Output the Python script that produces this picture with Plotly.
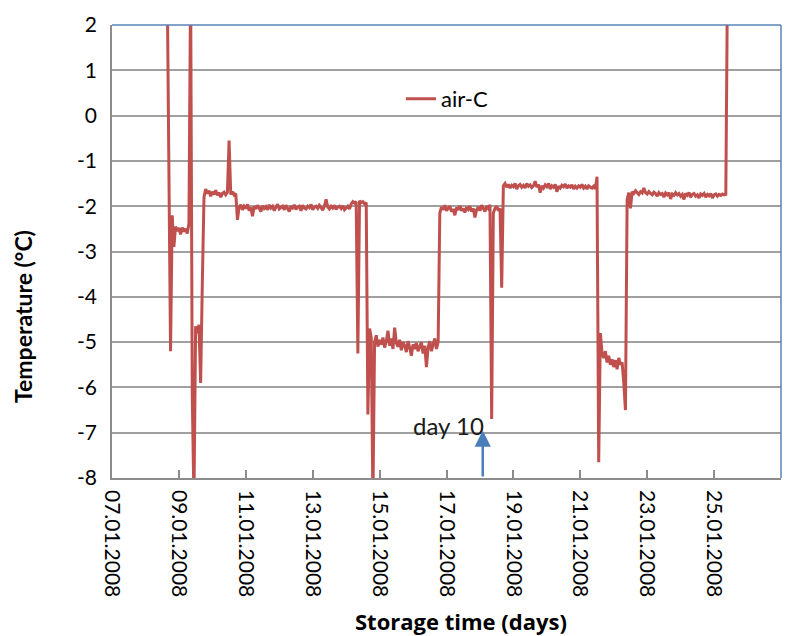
import pandas as pd
import plotly.graph_objects as go

# Air temperature logger, channel "air-C" (one reading every 72 min)
log_start = "2008-01-08 15:36"
log_interval = "72min"

# Start-up, first cooling and defrost spikes
phase_a = [3.0, -2.2, -5.2, -2.2, -2.9, -2.45, -2.55, -2.48, -2.62, -2.47,
           -2.56, -2.5, -2.6, -2.38, 3.0, -6.2, -8.5, -4.65, -4.8, -4.62,
           -5.9, -3.7, -1.8]
# Set point about -1.7 °C
phase_b = [-1.62, -1.72, -1.66, -1.78, -1.68, -1.74, -1.65, -1.76, -1.7, -1.8,
           -1.72, -1.69, -1.75, -1.7, -0.55, -1.74, -1.68, -1.75, -1.72, -2.3]
# Set point about -2.0 °C
phase_c = [-2.02, -1.97, -2.08, -2.0, -2.05, -1.96, -2.1, -2.03, -2.22, -2.0,
           -2.06, -1.98, -2.04, -2.12, -1.99, -2.05, -2.01, -2.08, -1.97, -2.04,
           -2.0, -2.1, -2.02, -1.96, -2.06, -2.03, -2.0, -2.08, -1.98, -2.05,
           -2.12, -2.0, -2.04, -1.97, -2.07, -2.02, -2.0, -2.1, -1.98, -2.04,
           -2.06, -2.0, -2.03, -1.96, -2.08, -2.02, -2.0, -2.05, -1.98, -2.03,
           -2.09, -2.0, -1.85, -2.02, -2.06, -2.0, -2.04, -1.98, -2.07, -2.02,
           -2.0, -2.05, -1.99, -2.08, -2.03, -2.0, -2.06, -1.95, -1.9, -1.93,
           -1.9, -5.25, -1.88, -1.92, -1.9, -1.95, -1.92, -6.6, -4.7, -4.9,
           -8.5]
# Set point about -5.0 °C
phase_d = [-5.0, -4.85, -5.1, -4.95, -5.05, -4.9, -5.12, -4.98, -4.75, -5.08,
           -4.92, -5.15, -4.68, -5.02, -5.1, -4.95, -5.18, -5.0, -5.08, -5.22,
           -4.98, -5.12, -5.3, -5.05, -5.15, -5.02, -5.2, -5.1, -5.0, -5.25,
           -5.08, -5.55, -5.12, -4.98, -5.2, -5.05, -4.92, -5.15, -5.0]
# Back to about -2.0 °C
phase_e = [-2.15, -2.02, -2.08, -1.98, -2.1, -2.05, -2.0, -2.12, -2.06, -2.2,
           -2.03, -2.08, -1.99, -2.1, -2.05, -2.14, -2.02, -2.07, -2.0, -2.12,
           -2.05, -2.25, -2.08, -2.02, -2.1, -1.98, -2.06, -2.12, -2.0, -2.05,
           -1.97, -6.7, -2.15, -2.05, -2.0, -2.1, -2.05, -3.8]
# Set point about -1.55 °C
phase_f = [-1.55, -1.5, -1.58, -1.52, -1.6, -1.54, -1.57, -1.5, -1.62, -1.55,
           -1.52, -1.58, -1.54, -1.6, -1.5, -1.56, -1.53, -1.59, -1.55, -1.45,
           -1.58, -1.52, -1.7, -1.55, -1.6, -1.53, -1.57, -1.5, -1.62, -1.55,
           -1.58, -1.52, -1.68, -1.56, -1.6, -1.54, -1.57, -1.51, -1.6, -1.55,
           -1.58, -1.53, -1.62, -1.56, -1.6, -1.55, -1.58, -1.52, -1.6, -1.56,
           -1.62, -1.55, -1.58, -1.6, -1.56, -1.62, -1.35, -7.65, -4.8]
# Set point about -5.4 °C
phase_g = [-5.25, -5.35, -5.2, -5.45, -5.3, -5.5, -5.38, -5.55, -5.4, -5.6,
           -5.35, -5.5, -5.45, -5.9, -6.5, -1.85]
# Set point about -1.7 °C, then the logger is taken out
phase_h = [-1.7, -2.05, -1.68, -1.72, -1.66, -1.7, -1.74, -1.68, -1.71, -1.6,
           -1.7, -1.73, -1.68, -1.72, -1.75, -1.69, -1.72, -1.78, -1.7, -1.74,
           -1.72, -1.8, -1.71, -1.75, -1.7, -1.84, -1.73, -1.76, -1.7, -1.75,
           -1.72, -1.78, -1.74, -1.85, -1.72, -1.76, -1.7, -1.8, -1.74, -1.72,
           -1.78, -1.75, -1.82, -1.73, -1.76, -1.72, -1.8, -1.74, -1.77, -1.72,
           -1.82, -1.75, -1.73, -1.78, -1.74, -1.76, -1.73, -1.75, -1.74, 3.0]

air_c = phase_a + phase_b + phase_c + phase_d + phase_e + phase_f + phase_g + phase_h
times = pd.date_range(log_start, periods=len(air_c), freq=log_interval)

x_range = ["2008-01-07", "2008-01-27"]
y_range = [-8, 2]
y_ticks = [2, 1, 0, -1, -2, -3, -4, -5, -6, -7, -8]
y_tick_labels = ["2", "1", "0", "-1", "-2", "-3", "-4", "-5", "-6", "-7", "-8"]
day10_time = "2008-01-18 02:00"
day10_level = -6.95
day10_label_time = "2008-01-17 01:30"
day10_label_level = -6.85

FONT = "Lato"
RED = "#C0504D"
GRID = "#A0A0A0"
AXIS = "#8C8C8C"
FRAME = "#5B82B8"

fig = go.Figure()
fig.add_trace(go.Scatter(
    x=times, y=air_c, mode="lines", name="air-C",
    line=dict(color=RED, width=3),
))

fig.update_layout(
    width=792, height=636,
    margin=dict(l=112, r=11, t=25, b=158),
    plot_bgcolor="white", paper_bgcolor="white",
    font=dict(family=FONT, size=21, color="#000000"),
    showlegend=True,
    legend=dict(x=0.432, y=0.837, xanchor="left", yanchor="middle",
                bgcolor="rgba(0,0,0,0)", font=dict(size=22, color="#000000")),
    xaxis=dict(
        type="date", range=x_range, tick0=x_range[0], dtick=2 * 86400000,
        tickformat="%d.%m.%Y", tickangle=90, showgrid=False,
        showline=True, linecolor=AXIS, linewidth=1.5,
        ticks="inside", ticklen=8, tickwidth=1.5, tickcolor=AXIS,
        ticklabelstandoff=6, zeroline=False,
    ),
    yaxis=dict(
        range=y_range, tickmode="array", tickvals=y_ticks, ticktext=y_tick_labels,
        showgrid=True, gridcolor=GRID, gridwidth=1.5,
        showline=True, linecolor=AXIS, linewidth=1.5, ticks="",
        ticklabelstandoff=9, zeroline=False,
    ),
    shapes=[
        dict(type="line", xref="paper", yref="paper", x0=0, x1=1, y0=1, y1=1,
             line=dict(color=FRAME, width=1.5)),
        dict(type="line", xref="paper", yref="paper", x0=1, x1=1, y0=0, y1=1,
             line=dict(color=FRAME, width=1.5)),
    ],
    annotations=[
        dict(text="<b>Temperature (°C)</b>", xref="paper", yref="paper",
             x=-0.132, y=0.357, xanchor="center", yanchor="middle",
             textangle=-90, showarrow=False, font=dict(size=23)),
        dict(text="<b>Storage time (days)</b>", xref="paper", yref="paper",
             x=0.5217, y=-0.316, xanchor="center", yanchor="middle",
             showarrow=False, font=dict(family="Open Sans", size=22)),
        dict(text="day 10", x=day10_label_time, y=day10_label_level,
             xref="x", yref="y", showarrow=False, font=dict(size=24, color="#1A1A1A")),
        dict(text="", x=day10_time, y=day10_level, ax=day10_time, ay=y_range[0],
             xref="x", yref="y", axref="x", ayref="y", showarrow=True,
             arrowhead=2, arrowsize=1.3, arrowwidth=2.5, arrowcolor="#4A7EBB"),
    ],
)

fig.write_html("out.html")
